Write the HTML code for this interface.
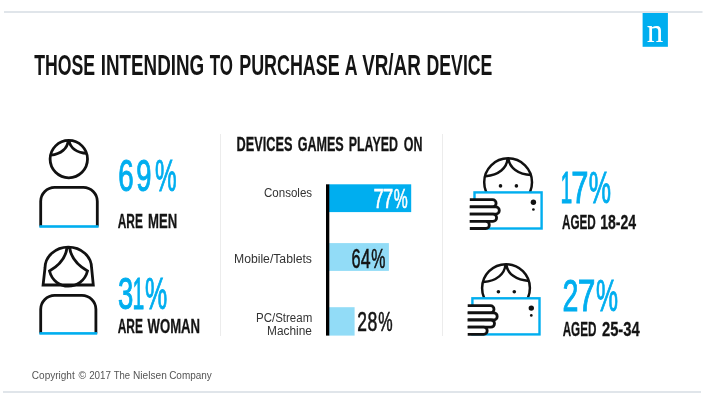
<!DOCTYPE html>
<html lang="en"><head><meta charset="utf-8"><title>Those intending to purchase a VR/AR device</title>
<style>html,body{margin:0;padding:0;background:#fff;}body{width:708px;height:415px;overflow:hidden;font-family:"Liberation Sans",sans-serif;}svg{display:block;}</style>
</head><body>
<svg width="708" height="415" viewBox="0 0 708 415">
<rect width="708" height="415" fill="#ffffff"/>
<rect x="4" y="11" width="698.5" height="2" fill="#e0e5ea"/>
<rect x="3" y="391" width="698" height="2" fill="#e0e5ea"/>
<rect x="642.6" y="13" width="25.3" height="33.8" fill="#00aeef"/>
<rect x="220" y="134" width="1" height="202" fill="#ececec"/>
<rect x="442" y="134" width="1" height="202" fill="#ececec"/>
<g fill="none" stroke="#111111" stroke-width="2.8">
<circle cx="68.8" cy="159.1" r="18.7"/>
<path d="M68.2 140.5 C67.6 148.5 61 154 50.8 155.2"/>
<path d="M69 140.5 C70.2 148 77 152.8 87 153.4"/>
<path d="M40.7 226.5 V201.3 A14 14 0 0 1 54.7 187.3 H83.3 A14 14 0 0 1 97.3 201.3 V226.5"/>
</g>
<rect x="39.4" y="225.2" width="59.2" height="2.6" fill="#00aeef"/>
<g fill="none" stroke="#111111" stroke-width="2.8" stroke-linejoin="miter">
<path d="M43.1 285 L45 268 C45 256.5 55.4 247.1 68.3 247.1 C81.2 247.1 91.6 256.5 91.6 268 L93.3 285 Z"/>
<path d="M67 247.5 C66 257 59 265.5 49.5 271 C52 281 60 286.2 68.3 286.2 C76.6 286.2 85 281 87.5 271 C78 265.5 70.8 257 69.6 247.5"/>
<path d="M40.7 333.4 V309.3 A14 14 0 0 1 54.7 295.3 H81.9 A14 14 0 0 1 95.9 309.3 V333.4"/>
</g>
<rect x="39.4" y="332.1" width="57.8" height="2.6" fill="#00aeef"/>
<rect x="329" y="184.3" width="82.2" height="27.8" fill="#00aeef"/>
<rect x="329" y="243.1" width="59.9" height="27.8" fill="#92dcf7"/>
<rect x="329" y="307.2" width="25.6" height="28.4" fill="#92dcf7"/>
<rect x="326" y="184.3" width="3.3" height="151.3" fill="#000"/>
<g transform="translate(0 0)" fill="none" stroke-linecap="butt">
<circle cx="508.1" cy="182.2" r="23.9" stroke="#111111" stroke-width="2.5" fill="#fff"/>
<path d="M507.6 158.6 C506.8 168 499 175 485.6 176.2" stroke="#111111" stroke-width="2.5"/>
<path d="M508.4 158.6 C509.5 167.5 518 174.5 531.2 175" stroke="#111111" stroke-width="2.5"/>
<circle cx="500.5" cy="185.9" r="1.8" fill="#111111"/><circle cx="516.4" cy="185.9" r="1.8" fill="#111111"/>
<rect x="474.5" y="192.4" width="67.1" height="36.1" fill="#fff" stroke="#00aeef" stroke-width="2.4"/>
<circle cx="533.4" cy="202.2" r="2.7" fill="#111111"/><circle cx="533.4" cy="209.5" r="1.35" fill="#111111"/>
<path d="M469.8 199.7 H492.50 A3.60 3.60 0 0 1 492.50 206.9 H469.8" fill="#fff" stroke="#111111" stroke-width="2.8"/>
<path d="M469.8 206.9 H495.70 A3.60 3.60 0 0 1 495.70 214.1 H469.8" fill="#fff" stroke="#111111" stroke-width="2.8"/>
<path d="M469.8 214.1 H493.00 A3.60 3.60 0 0 1 493.00 221.3 H469.8" fill="#fff" stroke="#111111" stroke-width="2.8"/>
<path d="M469.8 221.3 H485.70 A3.60 3.60 0 0 1 485.70 228.5 H469.8" fill="#fff" stroke="#111111" stroke-width="2.8"/>
</g>
<g transform="translate(-2.1 105.9)" fill="none" stroke-linecap="butt">
<circle cx="508.1" cy="182.2" r="23.9" stroke="#111111" stroke-width="2.5" fill="#fff"/>
<path d="M507.6 158.6 C506.8 168 499 175 485.6 176.2" stroke="#111111" stroke-width="2.5"/>
<path d="M508.4 158.6 C509.5 167.5 518 174.5 531.2 175" stroke="#111111" stroke-width="2.5"/>
<circle cx="500.5" cy="185.9" r="1.8" fill="#111111"/><circle cx="516.4" cy="185.9" r="1.8" fill="#111111"/>
<rect x="474.5" y="192.4" width="67.1" height="36.1" fill="#fff" stroke="#00aeef" stroke-width="2.4"/>
<circle cx="533.4" cy="202.2" r="2.7" fill="#111111"/><circle cx="533.4" cy="209.5" r="1.35" fill="#111111"/>
<path d="M469.8 199.7 H492.50 A3.60 3.60 0 0 1 492.50 206.9 H469.8" fill="#fff" stroke="#111111" stroke-width="2.8"/>
<path d="M469.8 206.9 H495.70 A3.60 3.60 0 0 1 495.70 214.1 H469.8" fill="#fff" stroke="#111111" stroke-width="2.8"/>
<path d="M469.8 214.1 H493.00 A3.60 3.60 0 0 1 493.00 221.3 H469.8" fill="#fff" stroke="#111111" stroke-width="2.8"/>
<path d="M469.8 221.3 H485.70 A3.60 3.60 0 0 1 485.70 228.5 H469.8" fill="#fff" stroke="#111111" stroke-width="2.8"/>
</g>
<text y="74.95" font-family="'Liberation Sans', sans-serif" font-weight="700" font-size="30.176" fill="#141414"><tspan x="34.15" textLength="60.94" lengthAdjust="spacingAndGlyphs">THOSE</tspan> <tspan x="100.75" textLength="103.46" lengthAdjust="spacingAndGlyphs">INTENDING</tspan> <tspan x="209.66" textLength="23.2" lengthAdjust="spacingAndGlyphs">TO</tspan> <tspan x="239.21" textLength="100.42" lengthAdjust="spacingAndGlyphs">PURCHASE</tspan> <tspan x="344.78" textLength="12.16" lengthAdjust="spacingAndGlyphs">A</tspan> <tspan x="362.14" textLength="58.7" lengthAdjust="spacingAndGlyphs">VR/AR</tspan> <tspan x="426.53" textLength="65.91" lengthAdjust="spacingAndGlyphs">DEVICE</tspan></text>
<text y="191.25" font-family="'Liberation Sans', sans-serif" font-weight="400" font-size="44.241" fill="#00aeef" stroke="#00aeef" stroke-width="1.0"><tspan x="118.3" textLength="15.45" lengthAdjust="spacingAndGlyphs">6</tspan><tspan x="136.17" textLength="15.22" lengthAdjust="spacingAndGlyphs">9</tspan><tspan x="154.95" textLength="21.65" lengthAdjust="spacingAndGlyphs">%</tspan></text>
<text y="228.0" font-family="'Liberation Sans', sans-serif" font-weight="700" font-size="20.801" fill="#141414" stroke="#141414" stroke-width="0.3"><tspan x="117.66" textLength="25.22" lengthAdjust="spacingAndGlyphs">ARE</tspan> <tspan x="148.01" textLength="29.15" lengthAdjust="spacingAndGlyphs">MEN</tspan></text>
<text y="309.45" font-family="'Liberation Sans', sans-serif" font-weight="400" font-size="44.105" fill="#00aeef" stroke="#00aeef" stroke-width="1.0"><tspan x="117.92" textLength="15.34" lengthAdjust="spacingAndGlyphs">3</tspan><tspan x="132.58" textLength="11.77" lengthAdjust="spacingAndGlyphs">1</tspan><tspan x="144.93" textLength="22.21" lengthAdjust="spacingAndGlyphs">%</tspan></text>
<text y="333.25" font-family="'Liberation Sans', sans-serif" font-weight="700" font-size="20.238" fill="#141414" stroke="#141414" stroke-width="0.3"><tspan x="117.65" textLength="25.28" lengthAdjust="spacingAndGlyphs">ARE</tspan> <tspan x="147.56" textLength="52.5" lengthAdjust="spacingAndGlyphs">WOMAN</tspan></text>
<text y="151.2" font-family="'Liberation Sans', sans-serif" font-weight="700" font-size="20.801" fill="#141414" stroke="#141414" stroke-width="0.3"><tspan x="236.53" textLength="55.9" lengthAdjust="spacingAndGlyphs">DEVICES</tspan> <tspan x="297.65" textLength="46.12" lengthAdjust="spacingAndGlyphs">GAMES</tspan> <tspan x="348.75" textLength="49.16" lengthAdjust="spacingAndGlyphs">PLAYED</tspan> <tspan x="403.85" textLength="18.66" lengthAdjust="spacingAndGlyphs">ON</tspan></text>
<text y="208.4" font-family="'Liberation Sans', sans-serif" font-weight="400" font-size="27.921" fill="#ffffff" stroke="#ffffff" stroke-width="0.6"><tspan x="373.47" textLength="10.31" lengthAdjust="spacingAndGlyphs">7</tspan><tspan x="382.85" textLength="10.55" lengthAdjust="spacingAndGlyphs">7</tspan><tspan x="393.68" textLength="13.99" lengthAdjust="spacingAndGlyphs">%</tspan></text>
<text y="267.5" font-family="'Liberation Sans', sans-serif" font-weight="400" font-size="27.505" fill="#141414" stroke="#141414" stroke-width="0.6"><tspan x="351.61" textLength="9.06" lengthAdjust="spacingAndGlyphs">6</tspan><tspan x="360.84" textLength="9.81" lengthAdjust="spacingAndGlyphs">4</tspan><tspan x="371.37" textLength="14.14" lengthAdjust="spacingAndGlyphs">%</tspan></text>
<text y="331.4" font-family="'Liberation Sans', sans-serif" font-weight="400" font-size="26.953" fill="#141414" stroke="#141414" stroke-width="0.6"><tspan x="357.35" textLength="9.68" lengthAdjust="spacingAndGlyphs">2</tspan><tspan x="367.45" textLength="9.8" lengthAdjust="spacingAndGlyphs">8</tspan><tspan x="378.25" textLength="14.38" lengthAdjust="spacingAndGlyphs">%</tspan></text>
<text y="203.2" font-family="'Liberation Sans', sans-serif" font-weight="400" font-size="43.889" fill="#00aeef" stroke="#00aeef" stroke-width="1.0"><tspan x="560.58" textLength="11.72" lengthAdjust="spacingAndGlyphs">1</tspan><tspan x="571.27" textLength="17.2" lengthAdjust="spacingAndGlyphs">7</tspan><tspan x="588.73" textLength="22.25" lengthAdjust="spacingAndGlyphs">%</tspan></text>
<text y="228.8" font-family="'Liberation Sans', sans-serif" font-weight="700" font-size="20.801" fill="#141414" stroke="#141414" stroke-width="0.3"><tspan x="561.96" textLength="33.81" lengthAdjust="spacingAndGlyphs">AGED</tspan> <tspan x="600.15" textLength="36.01" lengthAdjust="spacingAndGlyphs">18-24</tspan></text>
<text y="310.55" font-family="'Liberation Sans', sans-serif" font-weight="400" font-size="44.659" fill="#00aeef" stroke="#00aeef" stroke-width="1.0"><tspan x="562.58" textLength="15.89" lengthAdjust="spacingAndGlyphs">2</tspan><tspan x="577.86" textLength="17.65" lengthAdjust="spacingAndGlyphs">7</tspan><tspan x="596.05" textLength="22.02" lengthAdjust="spacingAndGlyphs">%</tspan></text>
<text y="336.15" font-family="'Liberation Sans', sans-serif" font-weight="700" font-size="20.238" fill="#141414" stroke="#141414" stroke-width="0.3"><tspan x="562.66" textLength="33.75" lengthAdjust="spacingAndGlyphs">AGED</tspan> <tspan x="601.94" textLength="37.77" lengthAdjust="spacingAndGlyphs">25-34</tspan></text>
<text y="41.75" font-family="'Liberation Serif', serif" font-weight="400" font-size="33.337" fill="#ffffff"><tspan x="646.85" textLength="16.56" lengthAdjust="spacingAndGlyphs">n</tspan></text>
<text y="196.6" font-family="'Liberation Sans', sans-serif" font-weight="400" font-size="12.3" fill="#333333"><tspan x="264.0" textLength="48.09" lengthAdjust="spacingAndGlyphs">Consoles</tspan></text>
<text y="262.6" font-family="'Liberation Sans', sans-serif" font-weight="400" font-size="12.3" fill="#333333"><tspan x="234.01" textLength="77.89" lengthAdjust="spacingAndGlyphs">Mobile/Tablets</tspan></text>
<text y="321.5" font-family="'Liberation Sans', sans-serif" font-weight="400" font-size="12.3" fill="#333333"><tspan x="255.96" textLength="56.27" lengthAdjust="spacingAndGlyphs">PC/Stream</tspan></text>
<text y="335.4" font-family="'Liberation Sans', sans-serif" font-weight="400" font-size="12.3" fill="#333333"><tspan x="267.04" textLength="44.83" lengthAdjust="spacingAndGlyphs">Machine</tspan></text>
<text y="378.7" font-family="'Liberation Sans', sans-serif" font-weight="400" font-size="10.7" fill="#555555"><tspan x="31.83" textLength="42.91" lengthAdjust="spacingAndGlyphs">Copyright</tspan> <tspan x="78.46" textLength="7.68" lengthAdjust="spacingAndGlyphs">©</tspan> <tspan x="89.14" textLength="21.87" lengthAdjust="spacingAndGlyphs">2017</tspan> <tspan x="113.68" textLength="16.41" lengthAdjust="spacingAndGlyphs">The</tspan> <tspan x="133.05" textLength="33.79" lengthAdjust="spacingAndGlyphs">Nielsen</tspan> <tspan x="169.13" textLength="42.71" lengthAdjust="spacingAndGlyphs">Company</tspan></text>
</svg>
</body></html>
